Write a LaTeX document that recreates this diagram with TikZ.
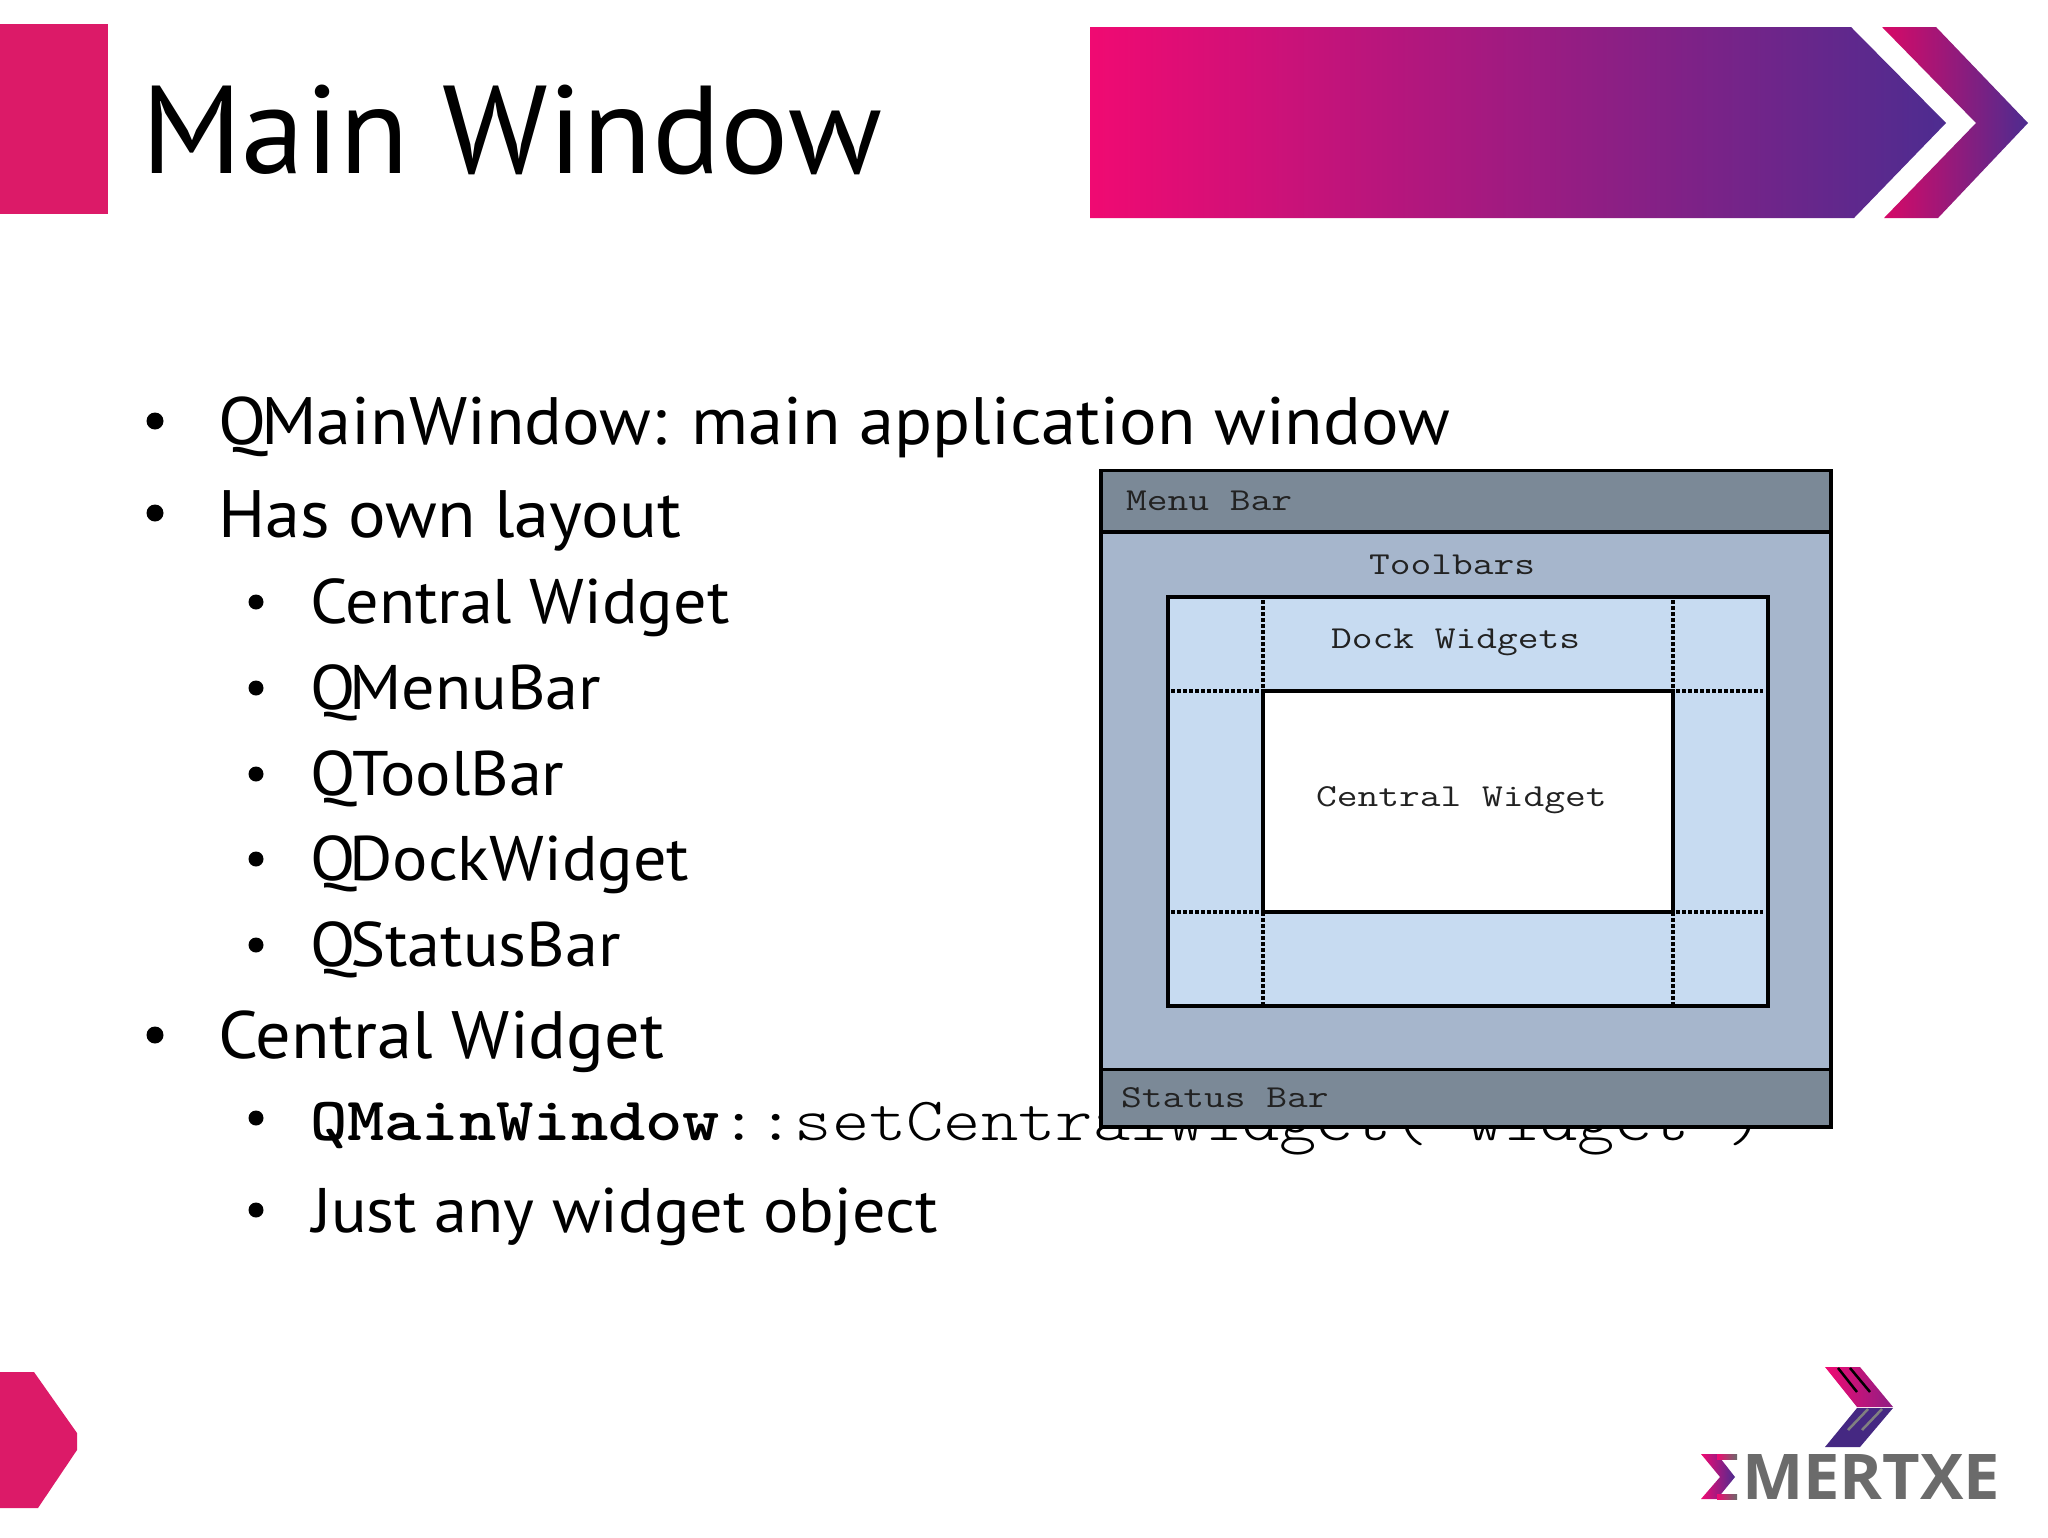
\documentclass[tikz,border=0pt]{standalone}
\usepackage{fontspec}
\usepackage{graphicx}
\setmainfont[FakeStretch=1.05]{PT Sans}
\newfontfamily\titlefont[FakeStretch=1.02]{PT Sans}
\newfontfamily\codefont[FakeStretch=1.155]{Latin Modern Mono Light}
\newfontfamily\winfont[FakeStretch=1.26]{Latin Modern Mono}
\newfontfamily\logofont{Open Sans}
\definecolor{brandpink}{HTML}{DC1A68}
\definecolor{gradpink}{HTML}{F00A72}
\definecolor{gradmid}{HTML}{A71A7E}
\definecolor{gradblue}{HTML}{4D2C90}
\definecolor{barcol}{HTML}{7B8997}
\definecolor{toolcol}{HTML}{A6B6CC}
\definecolor{dockcol}{HTML}{C7DBF1}
\definecolor{logogrey}{HTML}{6B6B6B}
\definecolor{codegrey}{HTML}{222222}
\newcommand{\lone}{\fontsize{67}{67}\selectfont}
\newcommand{\ltwo}{\fontsize{63}{63}\selectfont}
\newcommand{\wlabel}{\winfont\fontsize{32}{32}\selectfont}
\tikzset{
  textline/.style={anchor=base west,inner sep=0pt,outer sep=0pt,text=black},
  bulletone/.style={circle,fill=black,inner sep=0pt,minimum size=17pt},
  bullettwo/.style={circle,fill=black,inner sep=0pt,minimum size=15pt},
  wintext/.style={inner sep=0pt,outer sep=0pt,text=codegrey,anchor=base west},
  dots/.style={line width=4pt,dash pattern=on 3.5pt off 2.5pt,black},
}
\begin{document}
\begin{tikzpicture}[x=1pt,y=-1pt]
\useasboundingbox (0,0) rectangle (2048,1537);
\fill[white] (0,0) rectangle (2048,1537);
% header
\fill[brandpink] (0,24) rectangle (108,214);
\node[textline] (title) at (141,173) {\titlefont\fontsize{125}{125}\selectfont Main Window};
\path[left color=gradpink,middle color=gradmid,right color=gradblue]
  (1090,27) -- (1851,27) -- (1946,123) -- (1854,218) -- (1090,218) -- cycle;
\path[left color=gradpink!90!black,right color=gradblue]
  (1882,27) -- (1936,27) -- (2028,123) -- (1938,218) -- (1884,218) -- (1976,123) -- cycle;
% bullets
\node[bulletone] (b1) at (155,421) {};
\node[textline] (t1) at (218,444) {\lone Q\kern-5pt MainWindow: main application window};
\node[bulletone] (b2) at (155,513) {};
\node[textline] (t2) at (218,537) {\lone Has own layout};
\node[bullettwo] (b3) at (256,602) {};
\node[textline] (t3) at (310,623) {\ltwo Central Widget};
\node[bullettwo] (b4) at (256,688) {};
\node[textline] (t4) at (310,709) {\ltwo Q\kern-6pt MenuBar};
\node[bullettwo] (b5) at (256,774) {};
\node[textline] (t5) at (310,795) {\ltwo QToolBar};
\node[bullettwo] (b6) at (256,859) {};
\node[textline] (t6) at (310,880) {\ltwo Q\kern-6pt DockWidget};
\node[bullettwo] (b7) at (256,945) {};
\node[textline] (t7) at (310,966) {\ltwo Q\kern-5pt StatusBar};
\node[bulletone] (b8) at (155,1035) {};
\node[textline] (t8) at (218,1058) {\lone Central Widget};
\node[bullettwo] (b9) at (256,1118) {};
\node[textline] (t9) at (310,1140) {\codefont\fontsize{61.5}{61.5}\selectfont\textbf{QMainWindow}::setCentralWidget( widget )};
\node[bullettwo] (b10) at (256,1210) {};
\node[textline] (t10) at (312,1232) {\ltwo Just any widget object};
% window
\fill[toolcol] (1101,534) rectangle (1830,1068);
\fill[barcol] (1101,471) rectangle (1830,532);
\fill[barcol] (1101,1069) rectangle (1830,1126);
\draw[line width=4.5pt,black] (1101,532) -- (1830,532);
\draw[line width=3pt,black] (1101,1069) -- (1830,1069);
\draw[line width=3.5pt,black] (1101,470.5) rectangle (1831,1127);
\fill[dockcol] (1168,596) rectangle (1768,1006);
\fill[white] (1263,691) rectangle (1673,912);
\draw[dots] (1263,600) -- (1263,691);
\draw[dots] (1673,600) -- (1673,691);
\draw[dots] (1263,912) -- (1263,1004);
\draw[dots] (1673,912) -- (1673,1004);
\draw[dots] (1171,691) -- (1263,691);
\draw[dots] (1676,691) -- (1763,691);
\draw[dots] (1171,912) -- (1263,912);
\draw[dots] (1676,912) -- (1763,912);
\draw[line width=4pt,black] (1263,691) rectangle (1673,912);
\draw[line width=4.5pt,black] (1168,597) rectangle (1768,1006);
\node[wintext] (menubar) at (1126,510) {\wlabel Menu Bar};
\node[wintext] (toolbars) at (1369,574) {\wlabel Toolbars};
\node[wintext] (dock) at (1331,648) {\wlabel Dock Widgets};
\node[wintext] (central) at (1316,806) {\wlabel Central Widget};
\node[wintext] (status) at (1121,1107) {\wlabel Status Bar};
% footer
\fill[brandpink] (0,1372) -- (34,1372) -- (77,1433) -- (77,1450) -- (38,1508) -- (0,1508) -- cycle;
% logo
\path[left color=gradpink,right color=gradblue!60!gradpink]
  (1825,1367) -- (1860,1367) -- (1893,1407) -- (1857,1407) -- cycle;
\fill[gradblue!90!black] (1857,1408) -- (1893,1408) -- (1860,1447) -- (1825,1447) -- cycle;
\draw[line width=2.5pt,black] (1838,1368) -- (1857,1392);
\draw[line width=2.5pt,black] (1850,1368) -- (1870,1392);
\draw[line width=2.5pt,gray] (1868,1409) -- (1848,1430);
\draw[line width=2.5pt,gray] (1882,1409) -- (1862,1430);
\path[left color=gradpink,right color=gradblue]
  (1701,1454) -- (1717,1454) -- (1735,1477) -- (1717,1499) -- (1701,1499) -- (1720,1477) -- cycle;
\path[left color=gradpink,right color=logogrey] (1717,1454) rectangle (1737,1459);
\path[left color=gradpink,right color=logogrey] (1717,1494) rectangle (1737,1499);
\node[inner sep=0pt,outer sep=0pt,anchor=base west,text=logogrey] (logo) at (1742,1499)
  {\resizebox{258pt}{45pt}{\logofont\bfseries MERTXE}};
\end{tikzpicture}
\end{document}
